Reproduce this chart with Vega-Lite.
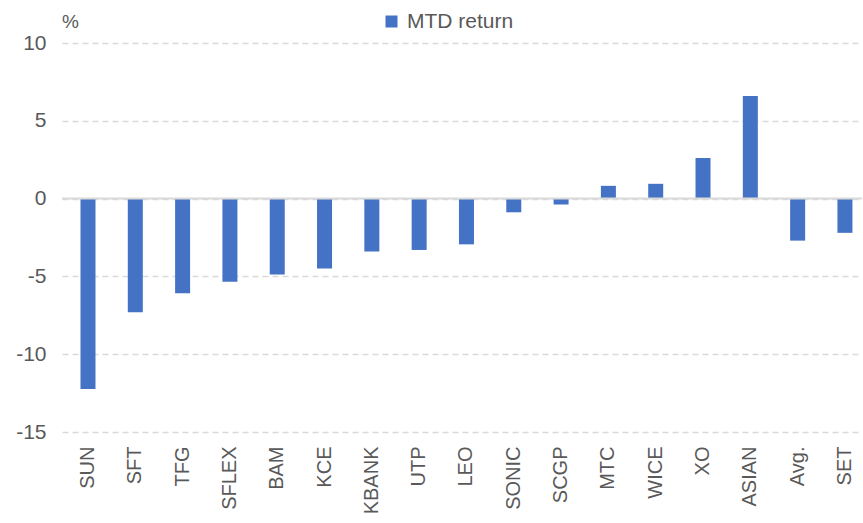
{
  "$schema": "https://vega.github.io/schema/vega-lite/v6.json",
  "width": 800,
  "height": 389,
  "autosize": {"type": "none"},
  "padding": {"left": 62, "top": 43, "right": 1, "bottom": 91},
  "background": "white",
  "config": {"view": {"stroke": null}, "font": "Liberation Sans"},
  "data": {"values": [
    {"stock": "SUN", "value": -12.23},
    {"stock": "SFT", "value": -7.3},
    {"stock": "TFG", "value": -6.09},
    {"stock": "SFLEX", "value": -5.35},
    {"stock": "BAM", "value": -4.87},
    {"stock": "KCE", "value": -4.5},
    {"stock": "KBANK", "value": -3.4},
    {"stock": "UTP", "value": -3.3},
    {"stock": "LEO", "value": -2.94},
    {"stock": "SONIC", "value": -0.88},
    {"stock": "SCGP", "value": -0.38},
    {"stock": "MTC", "value": 0.82},
    {"stock": "WICE", "value": 0.95},
    {"stock": "XO", "value": 2.61},
    {"stock": "ASIAN", "value": 6.6},
    {"stock": "Avg.", "value": -2.7},
    {"stock": "SET", "value": -2.2},
    {"stock": "zero", "value": 0}
  ]},
  "layer": [
    {
      "transform": [{"filter": "datum.stock !== 'zero'"}, {"calculate": "'MTD return'", "as": "series"}],
      "mark": {"type": "bar", "width": 15},
      "encoding": {
        "x": {"field": "stock", "type": "nominal", "sort": null,
          "scale": {"paddingInner": 0.68, "paddingOuter": 0.295, "align": 0.66},
          "axis": {"title": null, "labelAngle": -90, "labelAlign": "right", "labelBaseline": "middle", "labelFontSize": 20, "labelColor": "#595959", "labelPadding": 14, "ticks": false, "domain": false, "grid": false}},
        "y": {"field": "value", "type": "quantitative",
          "scale": {"domain": [-15, 10], "nice": false, "zero": false},
          "axis": {"values": [-15, -10, -5, 0, 5, 10], "labelExpr": "toString(datum.value)", "title": "%", "titleAngle": 0, "titleX": 8, "titleY": -22, "titleAlign": "center", "titleBaseline": "middle", "titleFontSize": 19, "titleFontWeight": "normal", "titleColor": "#595959", "labelFontSize": 21, "labelColor": "#595959", "labelPadding": 16, "ticks": false, "domain": false, "grid": true, "gridColor": "#d9d9d9", "gridDash": [6, 4], "gridWidth": 1.3}},
        "color": {"field": "series", "type": "nominal", "scale": {"range": ["#4472C4"]},
          "legend": {"title": null, "orient": "none", "legendX": 319, "legendY": -32, "symbolType": "square", "symbolSize": 144, "symbolStrokeWidth": 0, "labelFontSize": 21, "labelColor": "#595959", "labelOffset": 5}}
      }
    },
    {
      "transform": [{"filter": "datum.stock === 'zero'"}],
      "mark": {"type": "rule", "color": "#d9d9d9", "strokeWidth": 2},
      "encoding": {"y": {"field": "value", "type": "quantitative"}}
    }
  ]
}
